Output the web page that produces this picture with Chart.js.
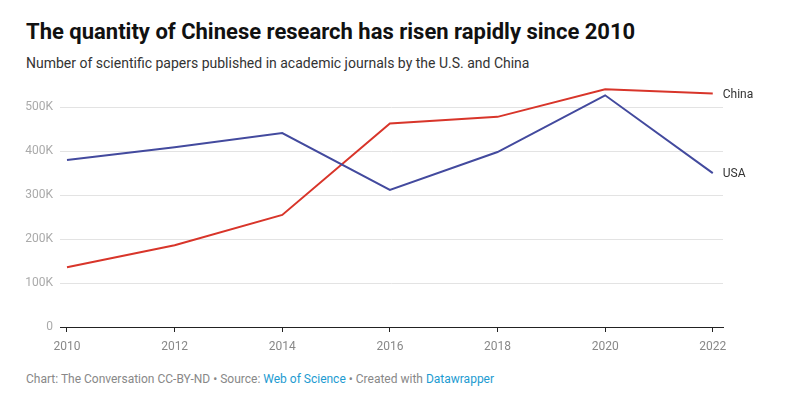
<!DOCTYPE html>
<html>
<head>
<meta charset="utf-8">
<script src="https://cdn.jsdelivr.net/npm/chart.js@4.4.1/dist/chart.umd.min.js"></script>
<style>
  html, body { margin: 0; padding: 0; background: #fff; width: 806px; height: 415px; overflow: hidden; font-family: Roboto, sans-serif; }
  #title { position: absolute; left: 26px; top: 19px; font-size: 22px; font-weight: 700; color: #111; white-space: nowrap; }
  #subtitle { position: absolute; left: 26px; top: 55px; font-size: 14px; color: #333; white-space: nowrap; }
  #wrap { position: absolute; left: 0; top: 71px; width: 806px; height: 300px; }
  #footer { position: absolute; left: 26px; top: 372px; font-size: 12px; color: #888; white-space: nowrap; }
  #footer span.l { color: #1d9bd1; }
</style>
</head>
<body>
<div id="title">The quantity of Chinese research has risen rapidly since 2010</div>
<div id="subtitle">Number of scientific papers published in academic journals by the U.S. and China</div>
<div id="wrap"><canvas id="c" width="806" height="300"></canvas></div>
<div id="footer">Chart: The Conversation CC-BY-ND • Source: <span class="l">Web of Science</span> • Created with <span class="l">Datawrapper</span></div>
<script>
const years = [2010, 2012, 2014, 2016, 2018, 2020, 2022];
const usa   = [380000, 409000, 441000, 312000, 398000, 527000, 350000];
const china = [136000, 186000, 255000, 463000, 478000, 541000, 531000];
const yTicks = [0, 100000, 200000, 300000, 400000, 500000];
const yTickLabels = ['0', '100K', '200K', '300K', '400K', '500K'];

const seriesNames = ['USA', 'China'];
const seriesColors = ['#434a9e', '#d8352a'];

const endLabels = {
  id: 'endLabels',
  afterDatasetsDraw(chart) {
    const ctx = chart.ctx;
    ctx.save();
    ctx.font = '12px Roboto, sans-serif';
    ctx.fillStyle = '#333';
    ctx.textBaseline = 'middle';
    chart.data.datasets.forEach((ds, i) => {
      const meta = chart.getDatasetMeta(i);
      const last = meta.data[meta.data.length - 1];
      ctx.fillText(ds.label, last.x + 10, last.y + 1);
    });
    ctx.restore();
  }
};

new Chart(document.getElementById('c'), {
  type: 'line',
  data: {
    datasets: [
      { label: seriesNames[0], data: years.map((y, i) => ({ x: y, y: usa[i] })), borderColor: seriesColors[0], borderWidth: 2, pointRadius: 0, tension: 0, fill: false },
      { label: seriesNames[1], data: years.map((y, i) => ({ x: y, y: china[i] })), borderColor: seriesColors[1], borderWidth: 2, pointRadius: 0, tension: 0, fill: false }
    ]
  },
  options: {
    responsive: false,
    animation: false,
    events: [],
    layout: { padding: { top: 5, right: 83, left: 0, bottom: 0 } },
    plugins: { legend: { display: false }, tooltip: { enabled: false } },
    scales: {
      x: {
        type: 'linear',
        min: 2009.87,
        max: 2022.19,
        afterBuildTicks(scale) { scale.ticks = years.map(v => ({ value: v })); },
        afterFit(scale) { scale.height = 44; },
        ticks: { color: '#888', font: { family: 'Roboto', size: 12 }, padding: 8, maxRotation: 0, autoSkip: false, callback: v => String(v) },
        grid: { display: true, drawOnChartArea: false, drawTicks: true, tickLength: 5, color: '#222', lineWidth: 1 },
        border: { display: true, color: '#222', width: 1 }
      },
      y: {
        min: 0,
        max: 550000,
        afterBuildTicks(scale) { scale.ticks = yTicks.map(v => ({ value: v })); },
        afterFit(scale) { scale.width = 60; },
        ticks: { color: '#aaa', font: { family: 'Roboto', size: 12 }, padding: 7, callback: (v) => yTickLabels[yTicks.indexOf(v)] },
        grid: { color: ctx => ctx.tick && ctx.tick.value === 0 ? 'rgba(0,0,0,0)' : '#e3e3e3', drawTicks: false, lineWidth: 1 },
        border: { display: false }
      }
    }
  },
  plugins: [endLabels]
});
</script>
</body>
</html>
